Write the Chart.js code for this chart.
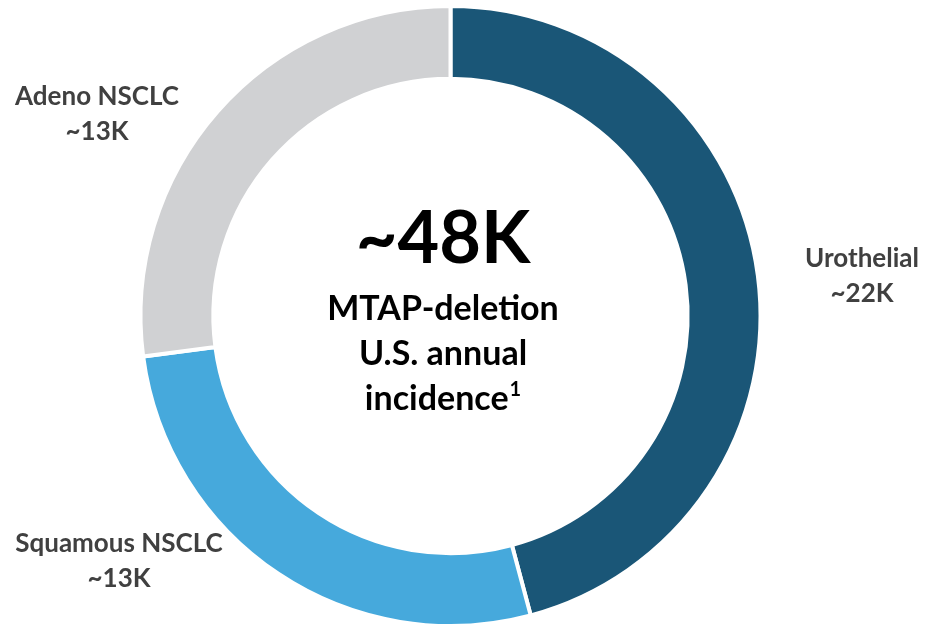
<!DOCTYPE html>
<html lang="en">
<head>
  <meta charset="UTF-8">
  <script src="https://cdn.jsdelivr.net/npm/chart.js@4.4.0/dist/chart.umd.min.js"></script>
  <title>MTAP-deletion U.S. annual incidence</title>
  <style>
    html, body { margin: 0; padding: 0; background: #fff; overflow: hidden; }
    #wrap { position: absolute; left: 0; top: 0; width: 927px; height: 634px; }
  </style>
</head>
<body>
  <div id="wrap"><canvas id="chart"></canvas></div>

  <script>
    // data
    const categories = ['Urothelial', 'Squamous NSCLC', 'Adeno NSCLC'];
    const incidence = [22, 13, 13];            // thousands
    const valueLabels = ['~22K', '~13K', '~13K'];
    const totalLabel = '~48K';
    const centerLines = ['MTAP-deletion', 'U.S. annual', 'incidence'];
    const colors = ['#1a5677', '#46a9dc', '#d0d1d3'];

    // label anchors (x centre, first baseline)
    const labelPos = [
      { x: 862, y: 267 },
      { x: 119, y: 552 },
      { x: 97, y: 105 }
    ];

    const textPlugin = {
      id: 'textPlugin',
      afterDraw(chart) {
        const ctx = chart.ctx;
        ctx.save();
        ctx.textAlign = 'center';
        ctx.textBaseline = 'alphabetic';

        // outer labels
        ctx.fillStyle = '#404040';
        ctx.font = 'bold 26px Lato';
        categories.forEach((name, i) => {
          const p = labelPos[i];
          ctx.fillText(name, p.x, p.y);
          ctx.fillText(valueLabels[i], p.x, p.y + 35);
        });

        // centre text
        const cx = 443;
        ctx.fillStyle = '#000';
        ctx.font = 'bold 72px Lato';
        ctx.fillText(totalLabel, cx, 263);

        ctx.font = 'bold 34px Lato';
        ctx.fillText(centerLines[0], cx, 320);
        ctx.fillText(centerLines[1], cx, 365);

        // last line with superscript
        const w = ctx.measureText(centerLines[2]).width;
        ctx.font = 'bold 20px Lato';
        const ws = ctx.measureText('1').width;
        const left = cx - (w + ws + 1) / 2;
        ctx.textAlign = 'left';
        ctx.font = 'bold 34px Lato';
        ctx.fillText(centerLines[2], left, 410);
        ctx.font = 'bold 20px Lato';
        ctx.fillText('1', left + w + 1, 396);
        ctx.restore();
      }
    };

    new Chart(document.getElementById('chart'), {
      type: 'doughnut',
      data: {
        labels: categories,
        datasets: [{
          data: incidence,
          backgroundColor: colors,
          borderColor: '#ffffff',
          borderWidth: 4
        }]
      },
      options: {
        responsive: true,
        maintainAspectRatio: false,
        animation: false,
        cutout: '76.5%',
        layout: { padding: { top: 4, bottom: 6, right: 26 } },
        plugins: {
          legend: { display: false },
          tooltip: { enabled: false }
        }
      },
      plugins: [textPlugin]
    });
  </script>
</body>
</html>
